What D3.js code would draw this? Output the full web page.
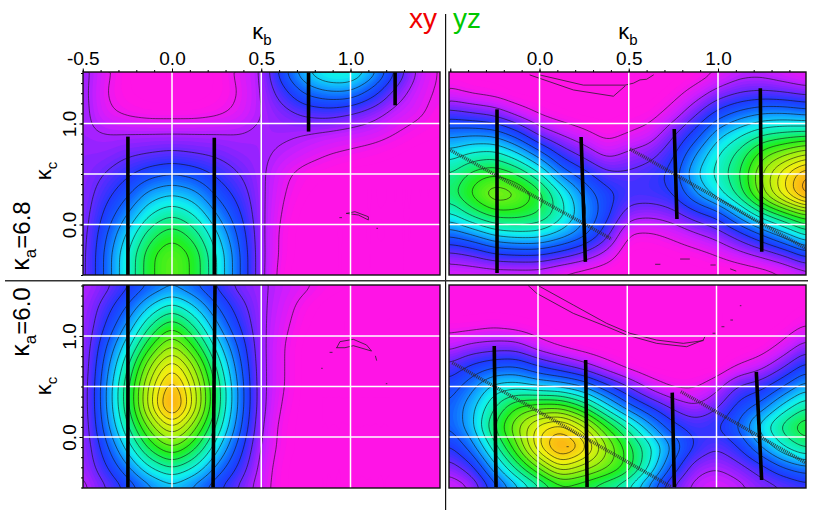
<!DOCTYPE html>
<html><head><meta charset="utf-8">
<style>html,body{margin:0;padding:0;background:#fff}svg{display:block}text{font-family:"Liberation Sans",Arial,sans-serif}</style>
<script src="https://cdn.jsdelivr.net/npm/d3@7"></script></head><body><svg id="c" width="830" height="515"></svg>
<script>
const kbGrid=[-0.5,-0.375,-0.25,-0.125,0,0.125,0.25,0.375,0.5,0.625,0.75,0.875,1,1.125,1.25,1.375,1.5];
const kcGrid=[1.5,1.3,1.1,0.9,0.7,0.5,0.3,0.1,-0.1,-0.3,-0.5];
const xyTop=[
[12,6,2,1,1,1,2,6,10,24,35,41,41,33,20,9,4],
[12,5,2,1,1,1,2,5,10,18,26,29,29,22,13,7,4],
[12,6,4,3,3,3,4,6,10,13,16,17,15,12,8,6,3],
[11,10,10,10,10,10,10,10,11,11,10,9,8,7,5,3,2],
[12,12,14,15,16,15,14,12,11,9,7,5,4,3,2,1,1],
[12,15,19,23,25,23,19,15,11,6,3,2,1,1,1,1,1],
[12,18,24,32,35,32,24,18,11,5,2,1,1,1,1,1,1],
[12,21,30,40,45,40,30,21,11,4,1,1,1,1,1,1,1],
[12,24,36,48,54,48,36,24,11,3,1,1,1,1,1,1,1],
[12,26,40,54,60,54,40,26,11,3,1,1,1,1,1,1,1],
[12,26,40,54,60,54,40,26,11,2,1,1,1,1,1,1,1]];
const yzTop=[
[2,1,1,1,1,1,1,1,1,1,1,2,5,8,8,6,4],
[6,4,3,1,1,1,1,1,1,1,3,7,12,15,16,15,13],
[17,15,13,8,4,2,1,1,2,3,7,14,22,27,30,30,28],
[28,29,28,22,13,9,6,3,5,7,14,22,33,39,44,46,47],
[37,41,42,36,27,18,13,8,11,13,19,30,40,47,58,64,70],
[45,52,55,50,41,28,22,16,16,18,22,35,42,50,66,80,92],
[48,57,65,62,53,40,29,22,18,18,20,30,38,48,64,80,96],
[39,47,53,53,50,42,31,22,12,11,13,18,22,33,44,52,60],
[26,30,36,38,38,33,27,17,4,4,6,9,12,18,25,33,42],
[13,15,19,20,20,17,13,8,1,1,2,3,5,8,11,15,22],
[6,6,6,6,6,3,2,1,1,1,1,1,1,1,2,4,7]];
const xyBottom=[
[9,13,19,25,29,25,19,13,11,8,6,3,2,1,1,1,1],
[10,17,25,35,42,35,25,17,11,7,3,1,1,1,1,1,1],
[10,20,31,45,55,45,31,20,11,6,2,1,1,1,1,1,1],
[10,24,38,54,67,54,38,24,11,5,1,1,1,1,1,1,1],
[10,27,44,65,81,65,44,27,11,5,1,1,1,1,1,1,1],
[10,29,48,72,91,72,48,29,11,5,1,1,1,1,1,1,1],
[10,29,48,73,97,73,48,29,11,4,1,1,1,1,1,1,1],
[10,27,44,62,77,62,44,27,10,3,1,1,1,1,1,1,1],
[10,23,37,52,61,52,37,23,9,3,1,1,1,1,1,1,1],
[10,19,29,40,46,40,29,19,8,2,1,1,1,1,1,1,1],
[8,14,21,28,33,28,21,14,7,2,1,1,1,1,1,1,1]];
const yzBottom=[
[1,1,1,1,1,1,1,1,1,1,1,1,1,1,1,1,1],
[1,1,1,1,1,1,1,1,1,1,1,1,1,1,1,1,2],
[3,3,4,3,2,1,1,1,1,1,1,1,1,1,1,2,5],
[8,11,12,12,7,4,2,1,1,1,1,1,1,1,2,6,12],
[16,21,24,25,20,16,12,7,3,1,1,1,1,5,8,14,22],
[22,28,37,38,35,34,30,22,15,8,4,4,8,16,18,25,33],
[25,33,44,55,58,58,50,38,27,20,14,10,14,22,27,37,45],
[25,33,50,64,78,84,72,56,44,32,22,18,20,26,38,48,55],
[19,27,42,58,80,95,86,67,53,42,30,20,15,20,30,40,47],
[12,18,32,46,60,75,68,62,54,40,24,12,10,13,18,25,29],
[6,9,22,32,42,52,50,45,40,28,14,8,6,8,12,14,17]];
const xyTopBars=[[[-0.247,0.87],[-0.247,-0.5]],[[0.237,0.86],[0.237,-0.5]],[[0.765,1.51],[0.765,0.92]],[[1.25,1.51],[1.25,1.18]]];
const yzTopBars=[[[-0.238,1.14],[-0.238,-0.48]],[[0.233,0.866],[0.257,-0.37]],[[0.755,0.946],[0.77,0.054]],[[1.237,1.35],[1.245,-0.27]]];
const xyBottomBars=[[[-0.247,1.51],[-0.247,-0.5]],[[0.241,1.51],[0.23,-0.5]]];
const yzBottomBars=[[[-0.245,0.9],[-0.235,-0.495]],[[0.267,0.762],[0.275,-0.495]],[[0.752,0.439],[0.764,-0.495]],[[1.223,0.644],[1.253,-0.426]]];
const yzTopDotted=[[[-0.5,0.737],[0.404,-0.144]],[[0.507,0.748],[1.497,-0.243]]];
const yzBottomDotted=[[[-0.48,0.736],[0.749,-0.495]],[[0.8,0.449],[1.501,-0.257]]];
const xyTopNoise=[[[0.978,0.11],[1.025,0.127],[1.1,0.077],[1.1,0.045],[1.044,0.094],[0.978,0.11]],[[0.94,0.068],[0.95,0.068]],[[1.147,-0.038],[1.152,-0.038]]];
const yzTopNoise=[[[-0.053,1.48],[0.19,1.332],[0.414,1.27],[0.479,1.37]],[[0.003,1.48],[0.246,1.38],[0.479,1.38],[0.526,1.399],[0.563,1.432],[0.6,1.438],[0.638,1.48]],[[0.79,-0.342],[0.84,-0.342]],[[1.07,-0.44],[1.1,-0.46]],[[0.65,-0.394],[0.675,-0.394]],[[0.96,-0.401],[0.985,-0.401]]];
const xyBottomNoise=[[[0.923,0.884],[0.941,0.944],[1.016,0.967],[1.09,0.911],[1.118,0.851],[1.016,0.904],[0.969,0.884],[0.923,0.884]],[[0.885,0.838],[0.897,0.838]],[[0.838,0.68],[0.842,0.68]],[[1.14,0.8],[1.146,0.76]],[[1.2,0.528],[1.204,0.528]]];
const yzBottomNoise=[[[-0.054,1.498],[-0.007,1.422],[0.198,1.224],[0.385,1.093],[0.497,1.01],[0.665,0.927],[0.833,0.894],[0.926,0.96],[0.935,0.993]],[[0.002,1.498],[0.198,1.307],[0.385,1.125],[0.515,1.027],[0.665,0.96],[0.814,0.927],[0.926,0.954]],[[0.98,1.027],[0.992,1.027]],[[1.03,1.092],[1.042,1.092]],[[1.08,1.158],[1.09,1.158]],[[1.133,1.3],[1.137,1.3]],[[0.162,-0.096],[0.17,-0.096]]];
const kbMajor=[-0.5,0,0.5,1];
const kbMinor=d3.range(-5,15).map(d=>d/10);
const kcMajor=[0,1];
const kcMinor=d3.range(-5,16).map(d=>d/10);
const gridKb=[0,0.5,1];
const gridKc=[0,0.5,1];
const colorStops=[0,3,8,13,20,26,32,38,46,54,66,78,92,100];
const colorValues=["#ff14e6","#ff14e6","#cc1eff","#8024ff","#2038ff","#1060ff","#10a8ff","#10f0f0","#10f090","#20f020","#a0f010","#f0f010","#ffa814","#ff5010"];
const color=d3.scaleLinear().domain(colorStops).range(colorValues);

const panels=[
 {id:"a",g:xyTop,bars:xyTopBars,dot:[],noise:xyTopNoise,r:[83,440],t:[72,275],x0:172,y0:224.5,top:true,left:true,labs:kbMajor},
 {id:"b",g:yzTop,bars:yzTopBars,dot:yzTopDotted,noise:yzTopNoise,r:[449,806],t:[72,275],x0:539.5,y0:224.5,top:true,left:false,labs:[0,0.5,1]},
 {id:"c",g:xyBottom,bars:xyBottomBars,dot:[],noise:xyBottomNoise,r:[83,440],t:[285,488],x0:172,y0:437,top:false,left:true},
 {id:"d",g:yzBottom,bars:yzBottomBars,dot:yzBottomDotted,noise:yzBottomNoise,r:[449,806],t:[285,488],x0:538,y0:437,top:false,left:false}
];
const svg=d3.select("#c");
const defs=svg.append("defs");
const UP=8, fmt=d=>d3.format(".1f")(d).replace("\u2212","-");
function upsample(g){
  const nx=kbGrid.length,ny=kcGrid.length,w=(nx-1)*UP+1,h=(ny-1)*UP+1,data=new Float64Array(w*h);
  for(let j=0;j<h;j++)for(let i=0;i<w;i++){
    const a=Math.min(Math.floor(i/UP),nx-2),b=Math.min(Math.floor(j/UP),ny-2),u=i/UP-a,v=j/UP-b;
    data[j*w+i]=(1-v)*((1-u)*g[b][a]+u*g[b][a+1])+v*((1-u)*g[b+1][a]+u*g[b+1][a+1]);
  }
  d3.blur2({data,width:w,height:h},2);
  return {data,w,h};
}
panels.forEach(p=>{
  const x=d3.scaleLinear().domain([-0.5,1.5]).range([p.x0-0.5*178.5,p.x0+1.5*178.5]);
  const y=d3.scaleLinear().domain([-0.5,1.5]).range([p.y0+0.5*101,p.y0-1.5*101]);
  const {data,w,h}=upsample(p.g);
  defs.append("clipPath").attr("id","clip"+p.id).append("rect").attr("x",p.r[0]).attr("y",p.t[0]).attr("width",p.r[1]-p.r[0]).attr("height",p.t[1]-p.t[0]);
  const root=svg.append("g");
  const g=root.append("g").attr("clip-path",`url(#clip${p.id})`);
  g.append("rect").attr("x",p.r[0]).attr("y",p.t[0]).attr("width",p.r[1]-p.r[0]).attr("height",p.t[1]-p.t[0]).attr("fill",color(0));
  const toK=(i,j)=>[x(-0.5+(i-0.5)/(w-1)*2),y(1.5-(j-0.5)/(h-1)*2)];
  const path=d3.geoPath(d3.geoTransform({point(a,b){const q=toK(a,b);this.stream.point(q[0],q[1]);}}));
  const cg=d3.contours().size([w,h]);
  const fine=d3.range(1,100,1);
  g.append("g").selectAll("path").data(cg.thresholds(fine)(Array.from(data))).join("path").attr("d",path).attr("fill",d=>color(d.value+0.5)).attr("stroke","none");
  const lv=d3.range(5,100,5);
  g.append("g").selectAll("path").data(cg.thresholds(lv)(Array.from(data))).join("path").attr("d",path).attr("fill","none").attr("stroke","#101010").attr("stroke-opacity",0.75).attr("stroke-width",0.8);
  const line=d3.line().x(d=>x(d[0])).y(d=>y(d[1]));
  g.append("g").selectAll("path").data(p.noise).join("path").attr("d",line).attr("fill","none").attr("stroke","#202020").attr("stroke-opacity",0.85).attr("stroke-width",0.9).attr("stroke-linecap","round");
  g.append("g").selectAll("line").data(gridKb).join("line").attr("x1",d=>x(d)).attr("x2",d=>x(d)).attr("y1",p.t[0]).attr("y2",p.t[1]).attr("stroke","#fff").attr("stroke-width",1.5);
  g.append("g").selectAll("line").data(gridKc).join("line").attr("x1",p.r[0]).attr("x2",p.r[1]).attr("y1",d=>y(d)).attr("y2",d=>y(d)).attr("stroke","#fff").attr("stroke-width",1.5);
  g.append("g").selectAll("path").data(p.dot).join("path").attr("d",line).attr("fill","none").attr("stroke","#303030").attr("stroke-width",3.4).attr("stroke-dasharray","1 1").attr("stroke-opacity",0.85);
  g.append("g").selectAll("path").data(p.bars).join("path").attr("d",line).attr("fill","none").attr("stroke","#000").attr("stroke-width",3.6);
  root.append("rect").attr("x",p.r[0]).attr("y",p.t[0]).attr("width",p.r[1]-p.r[0]).attr("height",p.t[1]-p.t[0]).attr("fill","none").attr("stroke","#111").attr("stroke-width",1.4);
  if(p.top){
    const a=root.append("g").attr("transform",`translate(0,${p.t[0]})`);
    a.append("g").call(d3.axisTop(x).tickValues(kbMinor).tickSize(2).tickFormat("")).call(s=>s.select(".domain").remove());
    const m=a.append("g").call(d3.axisTop(x).tickValues(kbMajor).tickSize(3.5).tickFormat(fmt).tickPadding(4)).call(s=>s.select(".domain").remove());
    m.selectAll("text").attr("font-size",19).attr("font-family",'"Liberation Sans",Arial,sans-serif').attr("fill","#000").style("display",d=>p.labs.includes(d)?null:"none");
  }
  if(p.left){
    const a=root.append("g").attr("transform",`translate(${p.r[0]},0)`);
    a.append("g").call(d3.axisLeft(y).tickValues(kcMinor).tickSize(2).tickFormat("")).call(s=>s.select(".domain").remove());
    const m=a.append("g").call(d3.axisLeft(y).tickValues(kcMajor).tickSize(3.5).tickFormat(fmt));
    m.select(".domain").remove();
    m.selectAll("text").attr("font-size",19).attr("font-family",'"Liberation Sans",Arial,sans-serif').attr("fill","#000")
      .attr("text-anchor","middle").attr("dy",0).attr("transform","translate(-7,0) rotate(-90)").attr("x",0).attr("y",0);
  }
});
function sub(parent,base,s,size,ssize){
  parent.append("tspan").text(base).attr("font-size",size);
  parent.append("tspan").text(s).attr("font-size",ssize).attr("dy",size*0.28);
}
function kbLabel(xp){const t=svg.append("text").attr("x",xp).attr("y",39).attr("text-anchor","middle");sub(t,"κ","b",22,15);}
kbLabel(262);kbLabel(628);
function rot(xp,yp){return svg.append("text").attr("transform",`translate(${xp},${yp}) rotate(-90)`).attr("text-anchor","middle");}
sub(rot(51,171),"κ","c",22,15);
sub(rot(51,386),"κ","c",22,15);
function ka(t,val){sub(t,"κ","a",25,17);t.append("tspan").text("="+val).attr("font-size",24).attr("dy",-6);}
ka(rot(29,236),"6.8");
ka(rot(29,322),"6.0");
svg.append("text").attr("x",437).attr("y",28).attr("text-anchor","end").attr("font-size",28).attr("fill","#f00000").text("xy");
svg.append("text").attr("x",453).attr("y",28).attr("font-size",28).attr("fill","#00c800").text("yz");
svg.append("line").attr("x1",445.6).attr("x2",445.6).attr("y1",14).attr("y2",510).attr("stroke","#111").attr("stroke-width",1.2);
svg.append("line").attr("x1",5).attr("x2",808).attr("y1",280.7).attr("y2",280.7).attr("stroke","#333").attr("stroke-width",1.4);
</script></body></html>
